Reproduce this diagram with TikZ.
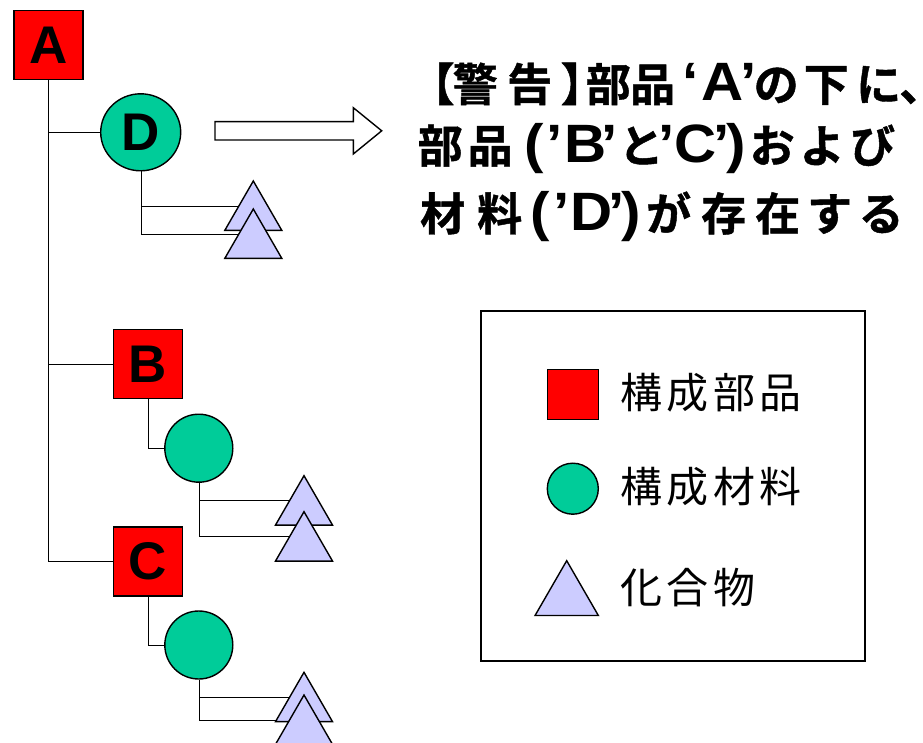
\documentclass[tikz,border=0pt]{standalone}
\usepackage{fontspec}
\usetikzlibrary{shapes.geometric,backgrounds,calc}
\newfontfamily\jpb{Noto Sans CJK JP Bold}[FakeBold=1]
\newfontfamily\jpr{Noto Sans CJK JP}[LetterSpace=10]
\newfontfamily\latb{Liberation Sans Bold}
\newfontfamily\latw{Liberation Sans Bold}[FakeStretch=1.08]
\newcommand\gp[2]{\makebox[0pt][l]{\hspace*{#1pt}\makebox[0pt][c]{#2}}}
\newcommand\lt[1]{{\latw\fontsize{54}{54}\selectfont #1}}
\definecolor{matgreen}{HTML}{00CC99}
\definecolor{cmpblue}{HTML}{CCCCFF}
\begin{document}
\begin{tikzpicture}[x=1pt,y=-1pt, line width=1.4pt,
  part/.style={draw=black, fill=red, minimum size=69pt, inner sep=0pt, font=\latb\fontsize{53}{53}\selectfont},
  mat/.style={circle, draw=black, fill=matgreen, inner sep=0pt, minimum size=68pt, font=\latb\fontsize{53}{53}\selectfont},
  cmp/.style={regular polygon, regular polygon sides=3, draw=black, fill=cmpblue, inner sep=0pt, minimum size=65.8pt},
  title/.style={anchor=base west, inner sep=0pt, font=\jpb\fontsize{45}{50}\selectfont},
  legtext/.style={anchor=base west, inner sep=0pt, font=\jpr\fontsize{42}{46}\selectfont}]
\useasboundingbox (0,0) rectangle (923,743);
\clip (0,0) rectangle (923,743);
% tree nodes
\node[part] (A) at (48.5,45) {A};
\node[mat, ellipse, minimum width=80pt, minimum height=77pt] (D) at (140.7,132.3) {D};
\node[part] (B) at (147.7,363.8) {B};
\node[part] (C) at (147.7,561.3) {C};
\node[mat] (mB) at (198.8,448.2) {};
\node[mat] (mC) at (198.8,645) {};
\node[cmp] (tD1) at (253.3,213.9) {};
\node[cmp] (tD2) at (253.3,241.9) {};
\node[cmp] (tB1) at (304,508.6) {};
\node[cmp] (tB2) at (304,544.6) {};
\node[cmp] (tC1) at (304,705.2) {};
\node[cmp] (tC2) at (304,727.9) {};
\begin{scope}[on background layer]
\draw (A.south) |- (C.west);
\draw (A.south |- D.west) -- (D.west);
\draw (A.south |- B.west) -- (B.west);
\draw (D.south) |- ([yshift=8pt]tD1.center);
\draw (D.south) |- ([yshift=8pt]tD2.center);
\draw (B.south) |- (mB.west);
\draw (C.south) |- (mC.west);
\draw (mB.south) |- ([yshift=8pt]tB1.center);
\draw (mB.south) |- ([yshift=8pt]tB2.center);
\draw (mC.south) |- ([yshift=8pt]tC1.center);
\draw (mC.south) |- ([yshift=8pt]tC2.center);
\end{scope}
% hollow arrow
\draw[fill=white] (215,121.7) -- (353.3,121.7) -- (353.3,107.7) -- (381.7,130.8) -- (353.3,154) -- (353.3,140) -- (215,140) -- cycle;
% warning text
\node[title] (w1) at (0,101) {\gp{431}{【}\gp{474}{警}\gp{528.5}{告}\gp{582}{】}\gp{607}{部}\gp{651.5}{品}\gp{689.5}{\lt{‘}}\gp{721.5}{\lt{A}}\gp{747.5}{\lt{’}}\gp{775}{の}\gp{825}{下}\gp{877.5}{に}\gp{898}{\makebox[0pt][l]{、}}};
\node[title] (w2) at (0,162.5) {\gp{439}{部}\gp{489}{品}\gp{533.5}{\lt{(}}\gp{553.5}{\lt{’}}\gp{584}{\lt{B}}\gp{608.5}{\lt{’}}\gp{640}{と}\gp{665}{\lt{’}}\gp{694}{\lt{C}}\gp{720.5}{\lt{’}}\gp{735}{\lt{)}}\gp{771}{お}\gp{821}{よ}\gp{871.5}{び}};
\node[title] (w3) at (0,230.5) {\gp{441.5}{材}\gp{498.5}{料}\gp{539.5}{\lt{(}}\gp{560}{\lt{’}}\gp{590}{\lt{D}}\gp{615.5}{\lt{’}}\gp{630}{\lt{)}}\gp{667.5}{が}\gp{722.5}{存}\gp{776.5}{在}\gp{828.5}{す}\gp{880}{る}};
% legend
\node[draw=black, minimum width=384pt, minimum height=350pt, inner sep=0pt] (leg) at (673,486) {};
\node[draw=black, fill=red, minimum width=51pt, minimum height=50pt, inner sep=0pt] (lsq) at (573.2,394.5) {};
\node[mat, minimum size=51pt] (lci) at (572.8,488.7) {};
\node[cmp, minimum size=73pt] (ltr) at (566.7,597.2) {};
\node[legtext] (l1) at (620,408.5) {構成部品};
\node[legtext] (l2) at (620,502.7) {構成材料};
\node[legtext] (l3) at (620,603.5) {化合物};
\end{tikzpicture}
\end{document}
